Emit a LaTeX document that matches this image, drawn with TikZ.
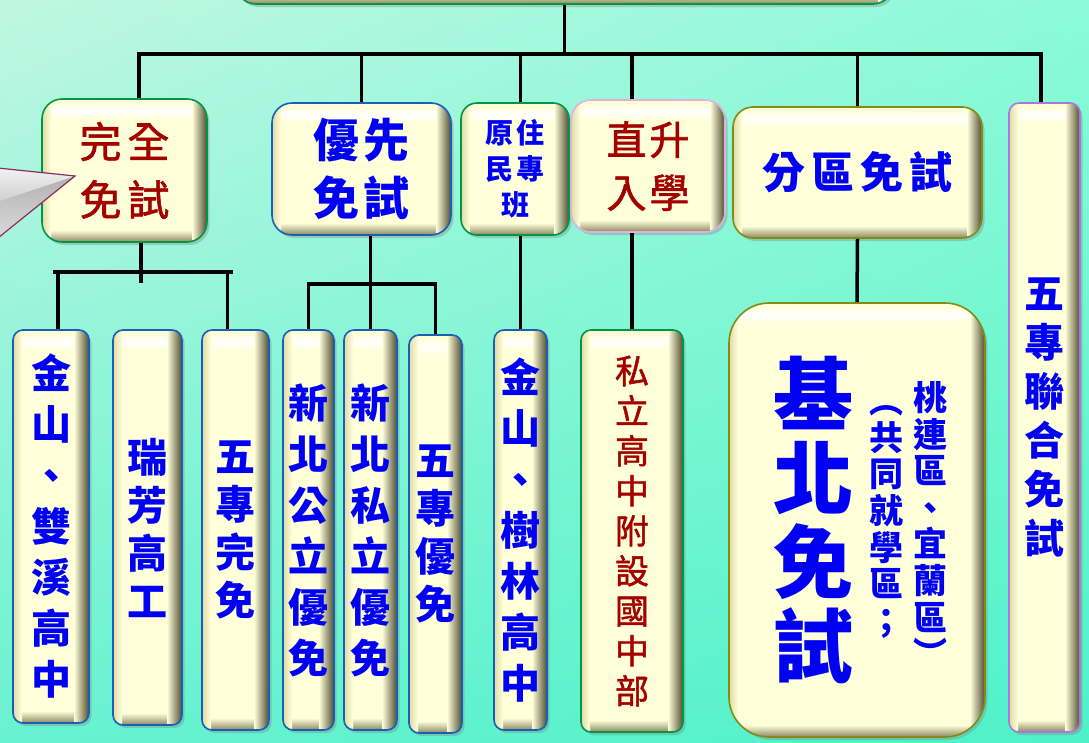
\documentclass[tikz,border=0pt]{standalone}
\usepackage{fontspec}
\newfontfamily\cjk{Noto Sans CJK TC}
\newfontfamily\cjkred{Noto Sans CJK TC}[FakeBold=1.4]
\usetikzlibrary{calc,positioning,shadows,shadings}

\definecolor{cream}{RGB}{255,255,218}
\definecolor{bevleft}{RGB}{222,219,165}
\definecolor{bevdark}{RGB}{80,76,48}
\definecolor{bevbot}{RGB}{140,136,96}
\definecolor{bgA}{RGB}{192,246,226}
\definecolor{bgB}{RGB}{140,250,216}
\definecolor{bgC}{RGB}{105,242,208}
\definecolor{bgD}{RGB}{78,242,200}
\definecolor{edgegreen}{RGB}{0,150,70}
\definecolor{edgeblue}{RGB}{25,95,180}
\definecolor{edgepink}{RGB}{225,175,225}
\definecolor{edgeolive}{RGB}{130,140,20}
\definecolor{edgepurple}{RGB}{170,120,220}
\definecolor{zhblue}{RGB}{0,0,245}
\definecolor{zhred}{RGB}{165,0,0}
\definecolor{tipedge}{RGB}{140,45,95}

\newcommand\zh[2]{\fontsize{#1}{#2}\selectfont}

\begin{document}
\begin{tikzpicture}[x=1pt,y=1pt,
  link/.style={line width=3.5pt},
  tile/.style={draw=#1,line width=1.6pt,fill=cream,rounded corners=10pt,
    inner sep=0pt,align=center,
    drop shadow={shadow xshift=2.5pt,shadow yshift=-3pt,opacity=.35},
    path picture={
      \coordinate (pa) at (path picture bounding box.south west);
      \coordinate (pb) at (path picture bounding box.north east);
      \shade[sharp corners,top color=cream,bottom color=bevbot] (pa) rectangle ($(pb|-pa)+(0,12pt)$);
      \shade[sharp corners,left color=bevleft,right color=cream] (pa) rectangle ($(pa|-pb)+(9pt,0)$);
      \shade[sharp corners,left color=cream,right color=bevdark] ($(pb|-pa)+(-15pt,0)$) rectangle (pb);
      \shade[sharp corners,top color=cream,bottom color=white] ($(pa|-pb)+(10pt,-4pt)$) rectangle ($(pb)+(-15pt,-11pt)$);
      \shade[sharp corners,top color=white,bottom color=cream] ($(pa|-pb)+(10pt,-11pt)$) rectangle ($(pb)+(-15pt,-20pt)$);
    }},
  bluetxt/.style 2 args={text=zhblue,font=\cjk\bfseries\zh{#1}{#2}},
  redtxt/.style 2 args={text=zhred,font=\cjkred\zh{#1}{#2}}
  ]

  \useasboundingbox (0,0) rectangle (1089,-742);
  \shade[upper left=bgA,upper right=bgB,lower left=bgC,lower right=bgD] (0,0) rectangle (1089,-742);

  % top level
  \node[tile=edgegreen,rounded corners=20pt,minimum width=657pt,minimum height=64pt] (head) at (564.5,28) {};
  \node[tile=edgegreen,rounded corners=20pt,minimum width=165pt,minimum height=143pt,redtxt={42}{58}]
    (wanquan) at (124.5,-170.5) {完\hspace{6pt}全\\免\hspace{6pt}試};
  \node[tile=edgeblue,rounded corners=20pt,minimum width=179pt,minimum height=132pt,bluetxt={46}{58}]
    (youxian) at (361.5,-169) {優\hspace{5pt}先\\免\hspace{5pt}試};
  \node[tile=edgegreen,rounded corners=16pt,minimum width=108pt,minimum height=132pt,bluetxt={28}{36}]
    (yuanzhu) at (515,-169) {原\hspace{3pt}住\\民\hspace{3pt}專\\班};
  \node[tile=edgepink,rounded corners=20pt,minimum width=154pt,minimum height=132pt,redtxt={40}{53}]
    (zhisheng) at (648,-166) {直\hspace{3pt}升\\入\hspace{3pt}學};
  \node[tile=edgeolive,rounded corners=20pt,minimum width=249pt,minimum height=131pt,bluetxt={43}{50}]
    (fenqu) at (857.5,-172.5) {分\hspace{6pt}區\hspace{6pt}免\hspace{6pt}試};
  \node[tile=edgepurple,minimum width=71pt,minimum height=629pt,bluetxt={40}{49}]
    (lianhe) at (1044.5,-417.5) {五\\專\\聯\\合\\免\\試};

  % second level
  \node[tile=edgeblue,minimum width=76pt,minimum height=393pt,bluetxt={40}{51}]
    (jsx) at (51,-526.5) {金\\山\\、\\雙\\溪\\高\\中};
  \node[tile=edgeblue,minimum width=69pt,minimum height=395pt,bluetxt={40}{48}]
    (ruifang) at (147.5,-527.5) {瑞\\芳\\高\\工};
  \node[tile=edgeblue,minimum width=67pt,minimum height=400pt,bluetxt={40}{48}]
    (wzwm) at (235.5,-530) {五\\專\\完\\免};
  \node[tile=edgeblue,minimum width=51pt,minimum height=400pt,bluetxt={40}{51}]
    (xbgl) at (308.5,-530) {新\\北\\公\\立\\優\\免};
  \node[tile=edgeblue,minimum width=53pt,minimum height=400pt,bluetxt={40}{51}]
    (xbsl) at (370.5,-530) {新\\北\\私\\立\\優\\免};
  \node[tile=edgeblue,minimum width=53pt,minimum height=398pt,bluetxt={40}{48}]
    (wzym) at (435.5,-534) {五\\專\\優\\免};
  \node[tile=edgeblue,minimum width=53pt,minimum height=400pt,bluetxt={40}{51}]
    (jssl) at (520.5,-530) {金\\山\\、\\樹\\林\\高\\中};
  \node[tile=edgegreen,minimum width=102pt,minimum height=402pt,redtxt={34}{40}]
    (sili) at (632,-531) {私\\立\\高\\中\\附\\設\\國\\中\\部};
  \node[tile=edgeolive,rounded corners=40pt,minimum width=256pt,minimum height=434pt]
    (jibei) at (857,-520) {};
  \node[bluetxt={80}{84},align=center] (jbname) at ([xshift=-44pt]jibei.center) {基\\北\\免\\試};
  \node[bluetxt={34}{36.6},align=center] (jbright) at ([xshift=73pt,yshift=-4pt]jibei.center)
    {桃\\連\\區\\、\\宜\\蘭\\區\\︶};
  \node[bluetxt={34}{36.6},align=center] (jbleft) at ([xshift=29pt,yshift=-2pt]jibei.center)
    {︵\\共\\同\\就\\學\\區\\；};

  % pointer at the left
  \shade[top color=gray!10,bottom color=gray!40] (-12,-167) -- (75,-176) -- (-12,-205) -- cycle;
  \shade[top color=gray!60,bottom color=gray!25] (-12,-205) -- (75,-176) -- (-12,-246) -- cycle;
  \draw[tipedge,line width=1.2pt] (-12,-167) -- (75,-176) -- (-12,-246);

  % connectors, top level
  \coordinate (busL) at (139,-54);
  \coordinate (busR) at (1041,-54);
  \draw[link] (wanquan.north -| busL) -- (busL) -- (busR) -- (lianhe.north -| busR);
  \draw[link] (head.south) -- (head.south |- busL);
  \draw[link] (youxian.north) -- (youxian.north |- busL);
  \draw[link] (yuanzhu.north -| jssl.north) -- (jssl.north |- busL);
  \draw[link] (zhisheng.north -| sili.north) -- (sili.north |- busL);
  \draw[link] (fenqu.north) -- (fenqu.north |- busL);

  % connectors, second level
  \coordinate (wqstem) at (141,-283);
  \coordinate (wqL) at (53,-272);
  \coordinate (wqR) at (233,-272);
  \draw[link] (wanquan.south -| wqstem) -- (wqstem);
  \draw[link] (wqL) -- (wqR);
  \draw[link] ([xshift=7pt]jsx.north) -- ([xshift=7pt]jsx.north |- wqL);
  \draw[link] ([xshift=-8pt]wzwm.north) -- ([xshift=-8pt]wzwm.north |- wqR);
  \draw[link] (youxian.south -| xbsl.north) -- (xbsl.north);
  \draw[link] (xbgl.north) -- ++(0,45) -| (wzym.north);
  \draw[link] (yuanzhu.south -| jssl.north) -- (jssl.north);
  \draw[link] (zhisheng.south -| sili.north) -- (sili.north);
  \draw[link] (fenqu.south) -- (jibei.north);

\end{tikzpicture}
\end{document}
